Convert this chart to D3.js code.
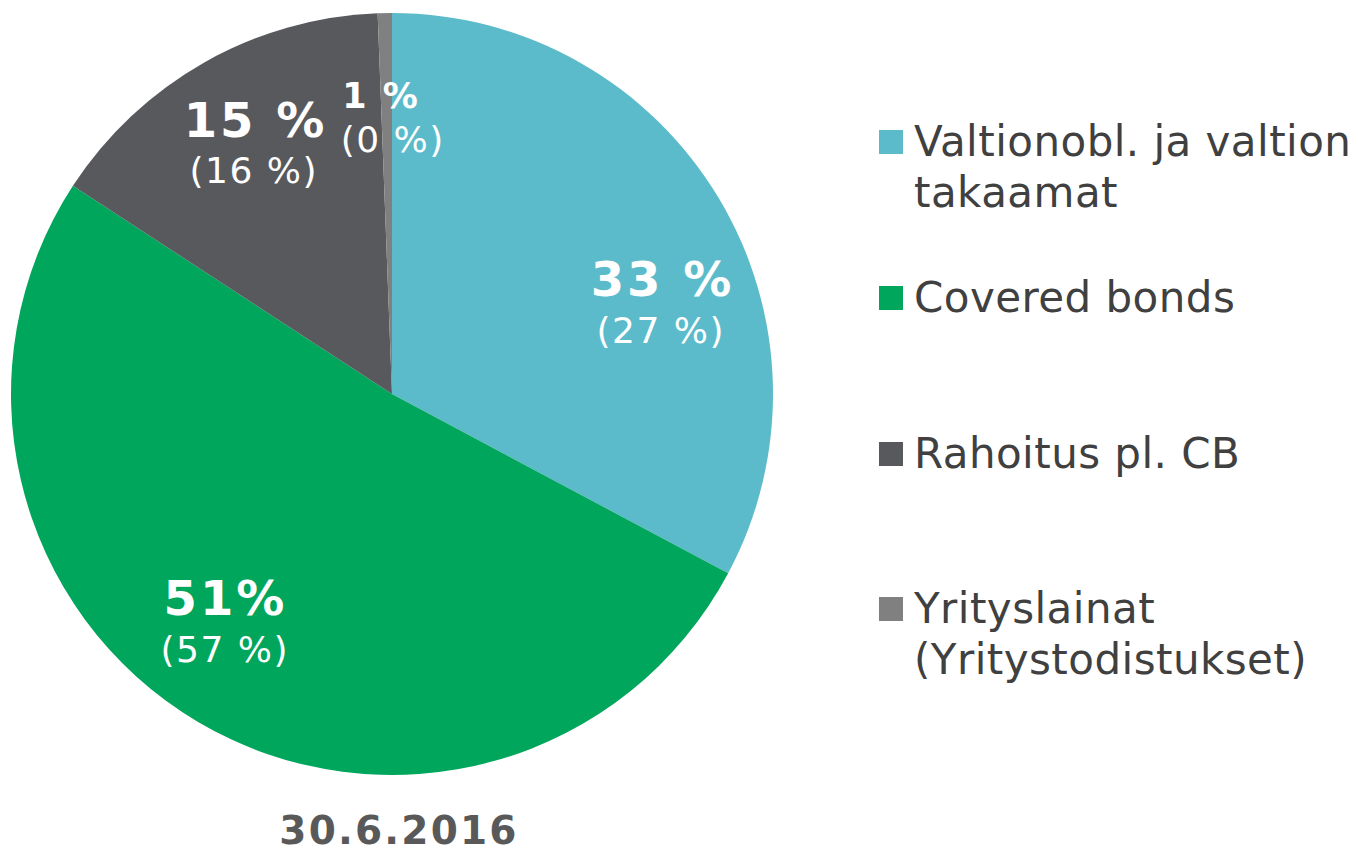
<!DOCTYPE html>
<html>
<head>
<meta charset="utf-8">
<script src="https://cdn.jsdelivr.net/npm/d3@7"></script>
<style>
  html, body { margin: 0; padding: 0; background: #ffffff; }
  svg { display: block; }
  text { font-family: "DejaVu Sans", Verdana, sans-serif; }
</style>
</head>
<body>
<svg id="chart" width="1358" height="852"></svg>
<script>
// ---- data ----
const categories = ["Valtionobl. ja valtion takaamat", "Covered bonds", "Rahoitus pl. CB", "Yrityslainat (Yritystodistukset)"];
const legendLines = [["Valtionobl. ja valtion", "takaamat"], ["Covered bonds"], ["Rahoitus pl. CB"], ["Yrityslainat", "(Yritystodistukset)"]];
const values = [32.8, 51.4, 15.2, 0.6];
const mainLabels = ["33 %", "51%", "15 %", "1 %"];
const prevLabels = ["(27 %)", "(57 %)", "(16 %)", "(0 %)"];
const colors = ["#5BBBCA", "#00A65C", "#58595D", "#808080"];
const title = "30.6.2016";

// ---- layout ----
const W = 1358, H = 852;
const cx = 392, cy = 394, R = 381;
// label anchor positions (center x, main baseline, sub baseline) and sizes
const labelLayout = [
  {x: 661, x2: 660, y1: 296, y2: 343, s1: 48, s2: 36},
  {x: 224, x2: 224, y1: 615, y2: 662, s1: 48, s2: 36},
  {x: 254, x2: 253, y1: 137, y2: 183, s1: 48, s2: 36},
  {x: 380, x2: 392, y1: 108, y2: 152, s1: 35, s2: 36}
];
const legendX = 879, legendTextX = 914, legendBox = 24;
const legendTop = [130, 286, 442, 597];
const legendLineH = 51;

const svg = d3.select("#chart");

const pie = d3.pie().sort(null).value(d => d).startAngle(0).endAngle(2 * Math.PI);
const arc = d3.arc().innerRadius(0).outerRadius(R);

const g = svg.append("g").attr("transform", `translate(${cx},${cy})`);
g.selectAll("path")
  .data(pie(values))
  .join("path")
  .attr("d", arc)
  .attr("fill", (d, i) => colors[i]);

// labels
const lab = svg.append("g");
labelLayout.forEach((p, i) => {
  const ls1 = i === 3 ? 2 : 3;
  lab.append("text")
    .attr("x", p.x + ls1 / 2).attr("y", p.y1)
    .attr("text-anchor", "middle")
    .attr("font-weight", "bold")
    .attr("font-size", p.s1)
    .attr("letter-spacing", ls1)
    .attr("fill", "#ffffff")
    .text(mainLabels[i]);
  lab.append("text")
    .attr("x", p.x2 + 0.75).attr("y", p.y2)
    .attr("text-anchor", "middle")
    .attr("font-size", p.s2)
    .attr("letter-spacing", 1.5)
    .attr("fill", "#ffffff")
    .text(prevLabels[i]);
});

// legend
const leg = svg.append("g");
categories.forEach((c, i) => {
  leg.append("rect")
    .attr("x", legendX).attr("y", legendTop[i])
    .attr("width", legendBox).attr("height", legendBox)
    .attr("fill", colors[i]);
  const t = leg.append("text")
    .attr("x", legendTextX).attr("y", legendTop[i] + 26)
    .attr("font-size", 42)
    .attr("letter-spacing", 0.45)
    .attr("fill", "#404040");
  legendLines[i].forEach((ln, k) => {
    t.append("tspan").attr("x", legendTextX).attr("dy", k === 0 ? 0 : legendLineH).text(ln);
  });
});

// title
svg.append("text")
  .attr("x", 399).attr("y", 844)
  .attr("text-anchor", "middle")
  .attr("font-weight", "bold")
  .attr("font-size", 39)
  .attr("letter-spacing", 2.2)
  .attr("fill", "#595959")
  .text(title);
</script>
</body>
</html>
